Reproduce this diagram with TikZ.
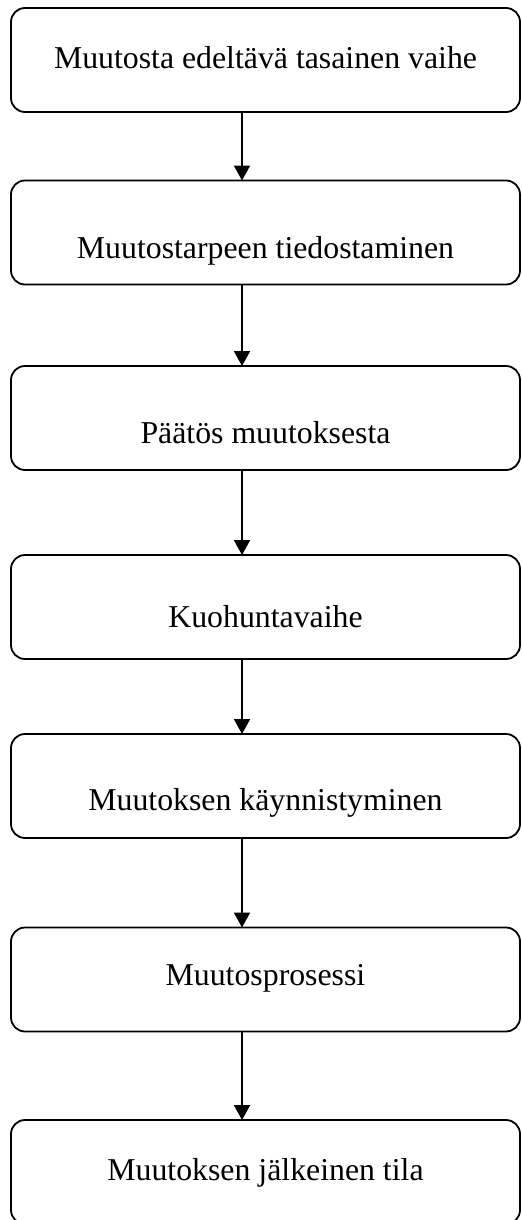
\documentclass[tikz,border=0pt]{standalone}
\usepackage{fontspec}
\setmainfont{Liberation Serif}
\usetikzlibrary{arrows.meta}
\tikzset{
  stagebox/.style={draw=black, line width=0.9pt, rounded corners=7pt, minimum width=254.5pt, minimum height=52pt, inner sep=0pt, outer sep=0pt},
  stagetext/.style={anchor=base, inner sep=0pt, font=\fontsize{15.9}{19}\selectfont},
  flowarrow/.style={draw=black, line width=1pt, -{Triangle[width=8pt,length=7.5pt]}}
}
\begin{document}
\begin{tikzpicture}[x=0.5pt,y=-0.5pt]
\useasboundingbox (0,0) rectangle (522,1220);
\node[stagebox] (b1) at (265.5,60) {};
\node[stagebox] (b2) at (265.5,232.5) {};
\node[stagebox] (b3) at (265.5,418) {};
\node[stagebox] (b4) at (265.5,607) {};
\node[stagebox] (b5) at (265.5,786) {};
\node[stagebox] (b6) at (265.5,979.5) {};
\node[stagebox] (b7) at (265.5,1172) {};
\node[stagetext] (t1) at (265.5,69) {Muutosta edeltävä tasainen vaihe};
\node[stagetext] (t2) at (265.5,258) {Muutostarpeen tiedostaminen};
\node[stagetext] (t3) at (265.5,443) {Päätös muutoksesta};
\node[stagetext] (t4) at (265.5,627) {Kuohuntavaihe};
\node[stagetext] (t5) at (265.5,810) {Muutoksen käynnistyminen};
\node[stagetext] (t6) at (265.5,985) {Muutosprosessi};
\node[stagetext] (t7) at (265.5,1180) {Muutoksen jälkeinen tila};
\coordinate (ax) at (242,0);
\draw[flowarrow] (b1.south -| ax) -- (b2.north -| ax);
\draw[flowarrow] (b2.south -| ax) -- (b3.north -| ax);
\draw[flowarrow] (b3.south -| ax) -- (b4.north -| ax);
\draw[flowarrow] (b4.south -| ax) -- (b5.north -| ax);
\draw[flowarrow] (b5.south -| ax) -- (b6.north -| ax);
\draw[flowarrow] (b6.south -| ax) -- (b7.north -| ax);
\end{tikzpicture}
\end{document}
